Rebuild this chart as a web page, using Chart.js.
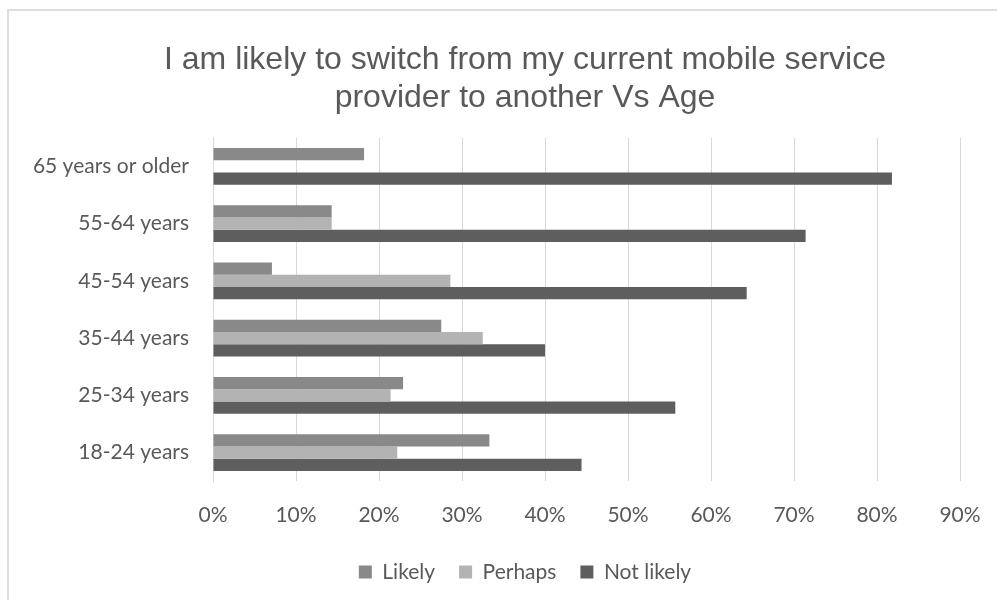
<!DOCTYPE html>
<html>
<head>
<meta charset="utf-8">
<script src="https://cdn.jsdelivr.net/npm/chart.js@4/dist/chart.umd.min.js"></script>
<style>
  html, body { margin: 0; padding: 0; background: #fff; overflow: hidden; width: 997px; height: 600px; }
  #frame { position: absolute; left: 7px; top: 9px; width: 1100px; height: 700px;
           border-top: 2px solid #dedede; border-left: 2px solid #dedede; }
  #chart { position: absolute; left: 0; top: 0; }
</style>
</head>
<body>
<div id="frame"></div>
<canvas id="chart" width="1054" height="600"></canvas>
<script>
// Respuestas por grupo de edad (% de encuestados)
const ageGroups = ['65 years or older', '55-64 years', '45-54 years', '35-44 years', '25-34 years', '18-24 years'];
const likely    = [18.2, 14.3, 7.1, 27.5, 22.9, 33.3];
const perhaps   = [0, 14.3, 28.6, 32.5, 21.4, 22.2];
const notLikely = [81.8, 71.4, 64.3, 40.0, 55.7, 44.4];
const xTicks    = [0, 10, 20, 30, 40, 50, 60, 70, 80, 90];

const TEXT = '#595959';
const GRID = '#d9d9d9';
const bodyFont = { family: 'Lato, "Open Sans", sans-serif', size: 21 };

new Chart(document.getElementById('chart'), {
  type: 'bar',
  data: {
    labels: ageGroups,
    datasets: [
      { label: 'Likely',     data: likely,    backgroundColor: '#898989' },
      { label: 'Perhaps',    data: perhaps,   backgroundColor: '#b3b3b3' },
      { label: 'Not likely', data: notLikely, backgroundColor: '#5e5e5e' }
    ]
  },
  options: {
    responsive: false,
    animation: false,
    indexAxis: 'y',
    datasets: { bar: { categoryPercentage: 0.64, barPercentage: 1.0 } },
    layout: { padding: { left: 9, right: 13, top: 21, bottom: 7.5 } },
    plugins: {
      title: {
        display: true,
        text: ['I am likely to switch from my current mobile service', 'provider to another Vs Age'],
        color: TEXT,
        font: { family: '"Liberation Sans", Arial, sans-serif', size: 32, weight: 'normal', lineHeight: 1.2 },
        padding: { top: 20, bottom: 20 }
      },
      legend: {
        position: 'bottom',
        labels: {
          color: TEXT,
          font: bodyFont,
          boxWidth: 13,
          boxHeight: 13,
          padding: 24
        }
      },
      tooltip: { enabled: false }
    },
    scales: {
      x: {
        min: 0,
        max: 90,
        afterBuildTicks: axis => { axis.ticks = xTicks.map(v => ({ value: v })); },
        afterFit: axis => { axis.height -= 11; },
        ticks: { color: TEXT, font: bodyFont, padding: 21, callback: v => v + '%' },
        grid: { color: GRID, lineWidth: 1, drawTicks: false },
        border: { display: false }
      },
      y: {
        afterFit: axis => { axis.width = 213 - 9; },
        ticks: { color: TEXT, font: bodyFont, padding: 24 },
        grid: { display: false, drawTicks: false },
        border: { display: true, color: GRID, width: 1 }
      },
      // empty margin to the right of the plot, the title and legend stay centred on the full width
      rightGap: {
        type: 'category',
        position: 'right',
        afterFit: axis => { axis.width = 81; },
        ticks: { display: false },
        grid: { display: false, drawTicks: false },
        border: { display: false }
      }
    }
  }
});
</script>
</body>
</html>
